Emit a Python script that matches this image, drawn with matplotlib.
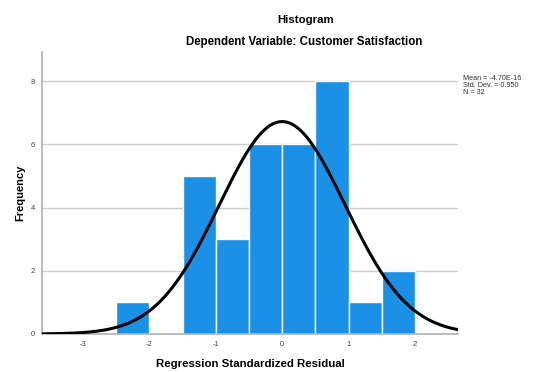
import numpy as np
import matplotlib
matplotlib.use("Agg")
import matplotlib.pyplot as plt

plt.rcParams['font.family'] = ['Liberation Sans', 'DejaVu Sans']

bin_left = [-2.5, -2.0, -1.5, -1.0, -0.5, 0.0, 0.5, 1.0, 1.5]
counts = [1, 0, 5, 3, 6, 6, 8, 1, 2]
bin_width = 0.5
mean = -4.70e-16
std = 0.950
n = 32
x_ticks = [-3, -2, -1, 0, 1, 2]
y_ticks = [0, 2, 4, 6, 8]

fig = plt.figure(figsize=(5.5, 3.72), dpi=100)
ax = fig.add_axes([0.0764, 0.1022, 0.7563, 0.758])

ax.set_xlim(-3.62, 2.65)
ax.set_ylim(0, 8.92)
for y in y_ticks[1:]:
    ax.axhline(y, color='#cccccc', lw=1.0, zorder=0)

ax.bar(bin_left, counts, width=bin_width, align='edge', color='#1a90e6',
       edgecolor='white', linewidth=1.0, zorder=2)

xs = np.linspace(-3.62, 2.65, 400)
ys = n * bin_width / (std * np.sqrt(2 * np.pi)) * np.exp(-0.5 * ((xs - mean) / std) ** 2)
ax.plot(xs, ys, color='black', lw=2.2, zorder=3)

for s in ['top', 'right']:
    ax.spines[s].set_visible(False)
ax.spines['left'].set_color('#b0b0b0')
ax.spines['bottom'].set_color('#b0b0b0')
ax.spines['left'].set_linewidth(1.2)
ax.spines['bottom'].set_linewidth(1.2)

ax.set_xticks(x_ticks)
ax.set_xticklabels([str(t) for t in x_ticks])
ax.set_yticks(y_ticks)
ax.tick_params(axis='both', length=0, labelsize=5.5, colors='#444444', pad=5)

ax.set_ylabel('Frequency', fontsize=8, fontweight='bold', labelpad=4)
ax.set_xlabel('Regression Standardized Residual', fontsize=8.2, fontweight='bold', labelpad=8)

fig.text(0.555, 0.946, 'Histogram', ha='center', va='center', fontsize=8.2, fontweight='bold')
fig.text(0.553, 0.887, 'Dependent Variable: Customer Satisfaction', ha='center', va='center',
         fontsize=8.3, fontweight='bold')

fig.text(0.842, 0.77, 'Mean = -4.70E-16\nStd. Dev. = 0.950\nN = 32', ha='left', va='center',
         fontsize=5.2, color='#333333', linespacing=0.95)

fig.savefig('out.png', dpi=100)
